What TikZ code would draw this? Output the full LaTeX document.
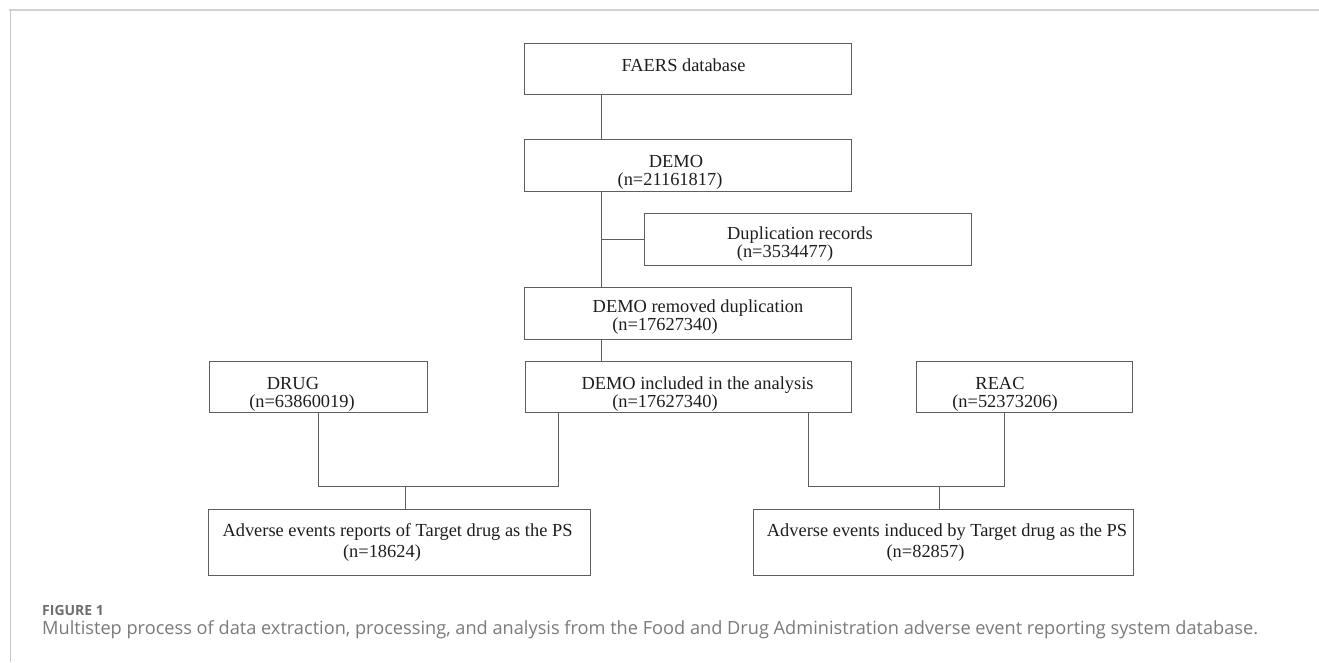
\documentclass[tikz,border=0pt]{standalone}
\usepackage{fontspec}
\setmainfont{Liberation Serif}
\newfontfamily\capfont{Open Sans}
\definecolor{boxline}{HTML}{5E5E5E}
\definecolor{txt}{HTML}{1E1E1E}
\definecolor{capgray}{HTML}{7A7A7A}
\definecolor{framegray}{HTML}{D2D2D2}
\begin{document}
\begin{tikzpicture}[x=1pt,y=-1pt,
  flowbox/.style={draw=boxline,line width=0.95pt,inner sep=0pt,rectangle},
  boxtext/.style={inner sep=0pt,anchor=base,text=txt,font=\fontsize{18.4}{20}\selectfont},
  link/.style={draw=boxline,line width=0.95pt}]
\useasboundingbox (0,0) rectangle (1319,662);
% frame
\draw[framegray,line width=2pt] (9,9.5) -- (1319,9.5);
\draw[framegray!85!gray,line width=0.9pt] (10,9) -- (10,662);
% boxes
\node[flowbox,minimum width=327pt,minimum height=51pt] (faers) at (687.5,68.5) {};
\node[flowbox,minimum width=327pt,minimum height=52pt] (demo) at (687.5,165) {};
\node[flowbox,minimum width=327pt,minimum height=52pt] (dup) at (807.5,239) {};
\node[flowbox,minimum width=327pt,minimum height=52pt] (remdup) at (687.5,313) {};
\node[flowbox,minimum width=326pt,minimum height=51pt] (incl) at (688,386.5) {};
\node[flowbox,minimum width=218pt,minimum height=51pt] (drug) at (318,386.5) {};
\node[flowbox,minimum width=216pt,minimum height=51pt] (reac) at (1024,386.5) {};
\node[flowbox,minimum width=382pt,minimum height=66pt] (outl) at (399,542) {};
\node[flowbox,minimum width=380pt,minimum height=66pt] (outr) at (943,542) {};
% texts
\node[boxtext] (t1) at (683.5,71) {FAERS database};
\node[boxtext] (t2a) at (676,167) {DEMO};
\node[boxtext] (t2b) at (670,185) {(n=21161817)};
\node[boxtext] (t3a) at (800,239.5) {Duplication records};
\node[boxtext] (t3b) at (785,257.5) {(n=3534477)};
\node[boxtext] (t4a) at (698,312.5) {DEMO removed duplication};
\node[boxtext] (t4b) at (665,330.5) {(n=17627340)};
\node[boxtext] (t5a) at (697.5,389) {DEMO included in the analysis};
\node[boxtext] (t5b) at (665,407.5) {(n=17627340)};
\node[boxtext] (t6a) at (293,389) {DRUG};
\node[boxtext] (t6b) at (302,407.5) {(n=63860019)};
\node[boxtext] (t7a) at (1000,389) {REAC};
\node[boxtext] (t7b) at (1005,407) {(n=52373206)};
\node[boxtext] (t8a) at (397.5,536.5) {Adverse events reports of Target drug as the PS};
\node[boxtext] (t8b) at (382,557.5) {(n=18624)};
\node[boxtext] (t9a) at (947,536.5) {Adverse events induced by Target drug as the PS};
\node[boxtext] (t9b) at (925.5,557) {(n=82857)};
% connector coordinates
\coordinate (trunk) at (601,0);
\coordinate (drugx) at (318,0);
\coordinate (inclL) at (558,0);
\coordinate (inclR) at (808,0);
\coordinate (reacx) at (1004,0);
\coordinate (joinL) at (405,486);
\coordinate (joinR) at (939,486);
% connectors
\draw[link] (trunk |- faers.south) -- (trunk |- demo.north);
\draw[link] (trunk |- demo.south) -- (trunk |- remdup.north);
\draw[link] (trunk |- dup.west) -- (dup.west);
\draw[link] (trunk |- remdup.south) -- (trunk |- incl.north);
\draw[link] (drugx |- drug.south) -- (drugx |- joinL) -- (inclL |- joinL) -- (inclL |- incl.south);
\draw[link] (joinL) -- (joinL |- outl.north);
\draw[link] (inclR |- incl.south) -- (inclR |- joinR) -- (reacx |- joinR) -- (reacx |- reac.south);
\draw[link] (joinR) -- (joinR |- outr.north);
% caption
\node[inner sep=0pt,anchor=west,text=capgray!90!black,font=\capfont\bfseries\fontsize{14}{16}\selectfont] (figlab) at (42,610.5) {FIGURE 1};
\node[inner sep=0pt,anchor=west,text=capgray,font=\capfont\fontsize{16}{18}\selectfont] (caption) at (42,630) {\resizebox{1216pt}{!}{Multistep process of data extraction, processing, and analysis from the Food and Drug Administration adverse event reporting system database.}};
\end{tikzpicture}
\end{document}
